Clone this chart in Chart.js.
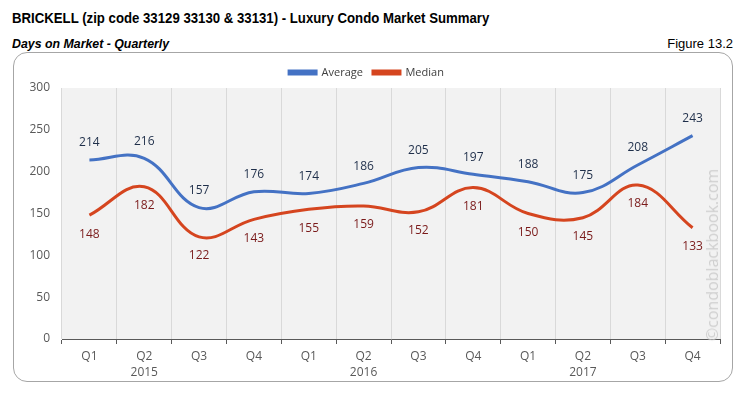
<!DOCTYPE html>
<html>
<head>
<meta charset="utf-8">
<script src="https://cdn.jsdelivr.net/npm/chart.js@4/dist/chart.umd.min.js"></script>
<style>
  html, body { margin:0; padding:0; background:#fff; }
  body { width:745px; height:399px; position:relative; overflow:hidden; }
  #title { position:absolute; left:12px; top:9px; font:bold 15px 'Liberation Sans', Arial, sans-serif; color:#000; white-space:nowrap; transform:scaleX(0.88); transform-origin:0 0; }
  #subtitle { position:absolute; left:12px; top:36px; font:italic bold 13px 'Liberation Sans', Arial, sans-serif; color:#000; white-space:nowrap; transform:scaleX(0.95); transform-origin:0 0; }
  #figure { position:absolute; right:12px; top:36px; font:13px 'Liberation Sans', Arial, sans-serif; color:#000; white-space:nowrap; }
  #box { position:absolute; left:13px; top:52px; width:718px; height:328px; border:1px solid #a6a6a6; border-radius:14px; }
  #wrap { position:absolute; left:0; top:0; width:745px; height:399px; }
  #wm { position:absolute; left:712px; top:255px; transform:translate(-50%,-50%) rotate(-90deg); font:16px 'Open Sans', sans-serif; color:#cfcfcf; white-space:nowrap; }
</style>
</head>
<body>
<div id="title">BRICKELL (zip code 33129 33130 &amp; 33131) - Luxury Condo Market Summary</div>
<div id="subtitle">Days on Market - Quarterly</div>
<div id="figure">Figure 13.2</div>
<div id="box"></div>
<div id="wrap"><canvas id="c" width="745" height="399"></canvas></div>
<div id="wm">©condoblackbook.com</div>
<script>
const quarters = ['Q1','Q2','Q3','Q4','Q1','Q2','Q3','Q4','Q1','Q2','Q3','Q4'];
const years = ['','2015','','','','2016','','','','2017','',''];
const averageDays = [214,216,157,176,174,186,205,197,188,175,208,243];
const medianDays = [148,182,122,143,155,159,152,181,150,145,184,133];
const yTicks = [0,50,100,150,200,250,300];

const labels = quarters.map((q,i) => [q, years[i]]);

const bgPlugin = {
  id: 'plotBg',
  beforeDraw(chart) {
    const {ctx, chartArea:a} = chart;
    ctx.save();
    ctx.fillStyle = '#f2f2f2';
    ctx.fillRect(a.left, a.top, a.right - a.left, a.bottom - a.top);
    ctx.restore();
  }
};

const labelPlugin = {
  id: 'valueLabels',
  afterDatasetsDraw(chart) {
    const ctx = chart.ctx;
    ctx.save();
    ctx.font = "12px 'Open Sans', sans-serif";
    ctx.textAlign = 'center';
    ctx.textBaseline = 'middle';
    chart.data.datasets.forEach((ds, di) => {
      const meta = chart.getDatasetMeta(di);
      meta.data.forEach((pt, i) => {
        ctx.fillStyle = ds.labelColor;
        ctx.fillText(String(ds.data[i]), pt.x, pt.y + ds.labelOffset);
      });
    });
    ctx.restore();
  }
};

new Chart(document.getElementById('c'), {
  type: 'line',
  data: {
    labels: labels,
    datasets: [
      { label:'Average', data: averageDays, borderColor:'#4472C4', backgroundColor:'#4472C4', borderWidth:3, pointRadius:0, tension:0.4, labelColor:'#1f2f4a', labelOffset:-17 },
      { label:'Median', data: medianDays, borderColor:'#D5451F', backgroundColor:'#D5451F', borderWidth:3, pointRadius:0, tension:0.4, labelColor:'#7a1a1a', labelOffset:19 }
    ]
  },
  options: {
    responsive:false,
    animation:false,
    devicePixelRatio:1,
    layout: { padding: { left:13, right:25, top:57, bottom:0 } },
    plugins: {
      legend: {
        position:'top',
        labels: { boxWidth:27, boxHeight:3, padding:10, color:'#404040', font:{ family:"'Open Sans', sans-serif", size:11 } }
      },
      tooltip: { enabled:false }
    },
    scales: {
      x: {
        offset:true,
        grid: { display:true, offset:true, color:'#d9d9d9', tickColor:'#595959', tickLength:5, drawOnChartArea:true },
        border: { display:true, color:'#595959', width:1 },
        ticks: { color:'#595959', font:{ family:"'Open Sans', sans-serif", size:12, lineHeight:1.35 }, maxRotation:0, autoSkip:false, padding:4 },
        afterFit(s) { s.height = 60; }
      },
      y: {
        min:0, max:300,
        afterBuildTicks(s) { s.ticks = yTicks.map(v => ({value:v})); },
        grid: { display:false },
        border: { display:false },
        ticks: { color:'#595959', font:{ family:"'Open Sans', sans-serif", size:12 }, padding:4 },
        afterFit(s) { s.width = 49; }
      }
    }
  },
  plugins: [bgPlugin, labelPlugin]
});
</script>
</body>
</html>
